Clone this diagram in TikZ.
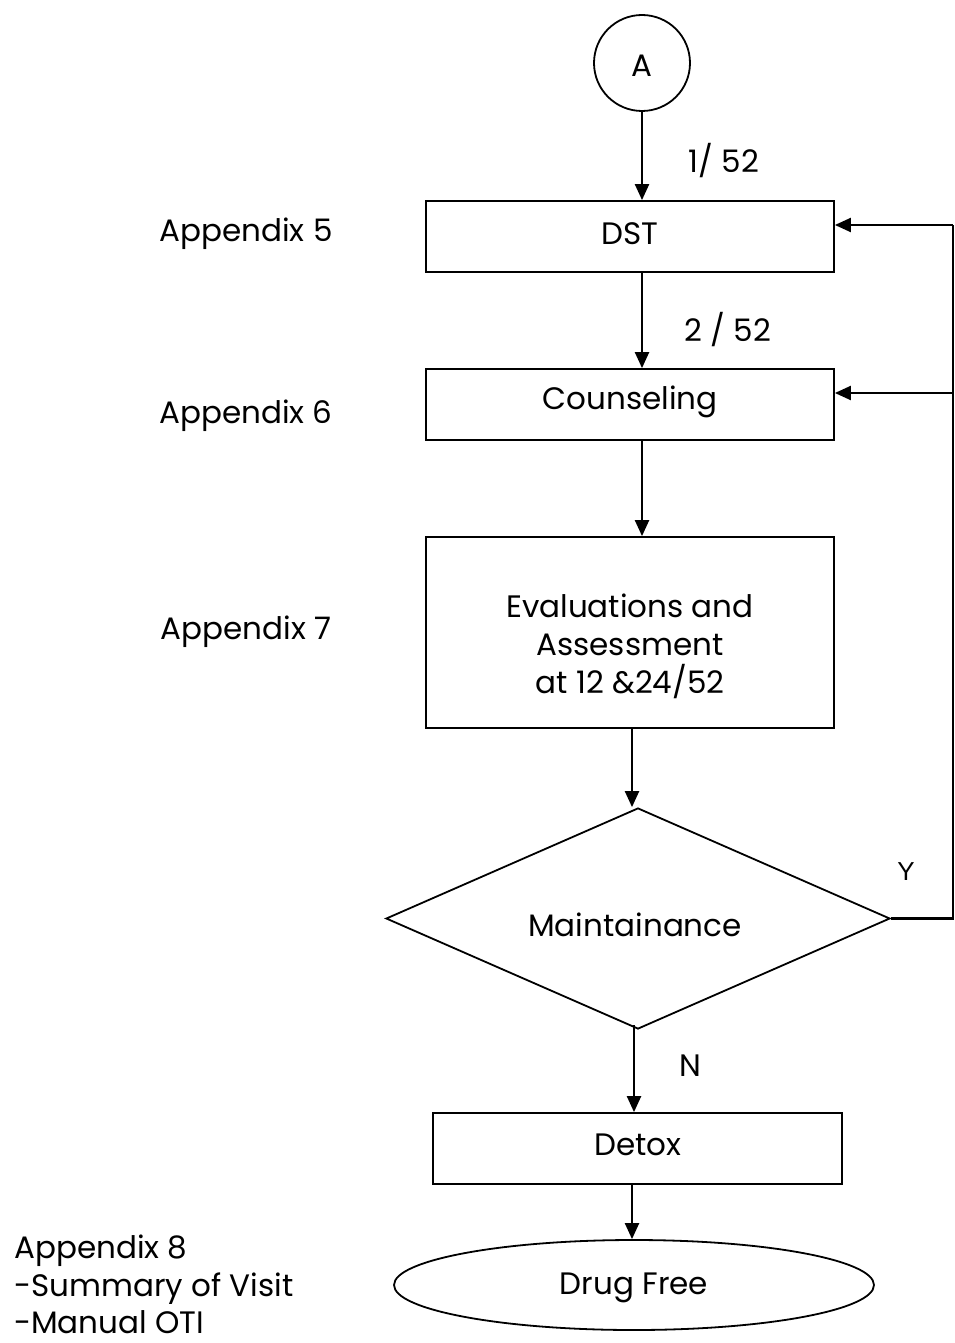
\documentclass[tikz,border=0pt]{standalone}
\usepackage{fontspec}
\setmainfont{Poppins}
\newfontfamily\arialfont{Liberation Sans}
\usetikzlibrary{arrows.meta,shapes.geometric,calc}
\tikzset{
  box/.style={draw,line width=1.8pt,minimum width=408pt,minimum height=71pt,inner sep=0pt},
  lbl/.style={inner sep=0pt,font=\fontsize{31}{38}\selectfont},
  arr/.style={line width=2.2pt,-{Triangle[length=16pt,width=14pt]}},
  ln/.style={line width=2.2pt}
}
\begin{document}
\begin{tikzpicture}[x=1pt,y=-1pt,font=\fontsize{31}{38}\selectfont]
\useasboundingbox (0,0) rectangle (954,1343);
% nodes
\node[draw,circle,line width=1.8pt,minimum size=96pt,inner sep=0pt] (A) at (642,63) {};
\node[lbl] (At) at (642,66) {A};
\node[box] (dst) at (630,236.5) {};
\node[lbl] (dstt) at (630,234) {DST};
\node[box] (cou) at (630,404.5) {};
\node[lbl] (cout) at (630,402) {Counseling};
\node[box,minimum height=191pt] (eval) at (630,632.5) {};
\node[lbl,align=center,font=\fontsize{31}{38}\selectfont] (evalt) at (630,646) {Evaluations and\\Assessment\\at 12 \&24/52};
\node[draw,diamond,line width=1.8pt,minimum width=504pt,minimum height=221pt,inner sep=0pt,aspect=2.28] (dia) at (638,918.5) {};
\node[lbl] (diat) at (635,925) {Maintainance};
\node[box,minimum width=409pt] (det) at (637.5,1148.5) {};
\node[lbl] (dett) at (638,1145) {Detox};
\node[draw,ellipse,line width=1.8pt,minimum width=480pt,minimum height=90pt,inner sep=0pt] (free) at (634,1285) {};
\node[lbl] (freet) at (634,1288) {Drug Free};
% labels
\node[lbl] (l1) at (724,161) {1/ 52};
\node[lbl] (l2) at (728,330) {2 / 52};
\node[lbl] (ap5) at (246,234) {Appendix 5};
\node[lbl] (ap6) at (246,416) {Appendix 6};
\node[lbl] (ap7) at (246,632) {Appendix 7};
\node[lbl,font=\arialfont\fontsize{26}{30}\selectfont] (y) at (906,872) {Y};
\node[lbl] (n) at (690,1066) {N};
\node[lbl,anchor=north west,align=left,font=\fontsize{31}{37.5}\selectfont] (ap8) at (14,1235) {Appendix 8\\-Summary of Visit\\-Manual OTI};
% connectors
\draw[arr] (A.south) -- (A.south |- dst.north);
\draw[arr] (642,272) coordinate (c1) -- (c1 |- cou.north);
\draw[arr] (642,440) coordinate (c2) -- (c2 |- eval.north);
\draw[arr] (632,728) coordinate (c3) -- (c3 |- dia.north);
\coordinate (r1) at (953,225);
\coordinate (r2) at (953,393);
\draw[ln] (dia.east) -| (r1);
\draw[arr] (r1) -- (r1 -| dst.east);
\draw[arr] (r2) -- (r2 -| cou.east);
\draw[arr] (634,1025) coordinate (c4) -- (c4 |- det.north);
\draw[arr] (632,1184) coordinate (c5) -- (c5 |- free.north);
\end{tikzpicture}
\end{document}
